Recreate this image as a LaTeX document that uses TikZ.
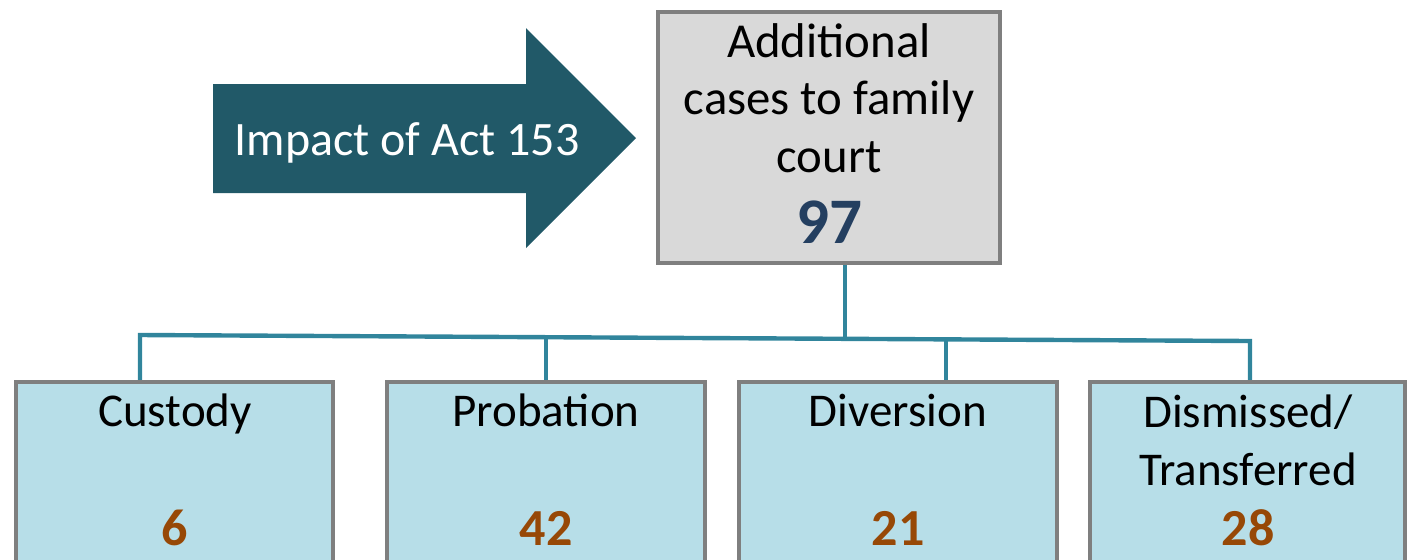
\documentclass[tikz,border=0pt]{standalone}
\usepackage{fontspec}
\setmainfont{Carlito}
\definecolor{arrowteal}{HTML}{215968}
\definecolor{boxgray}{HTML}{7F7F7F}
\definecolor{topfill}{HTML}{D9D9D9}
\definecolor{lowfill}{HTML}{B7DEE8}
\definecolor{conncol}{HTML}{31859C}
\definecolor{navynum}{HTML}{243F60}
\definecolor{brownnum}{HTML}{974806}
\begin{document}
\begin{tikzpicture}[x=0.5pt,y=-0.5pt,
  topbox/.style={draw=boxgray,fill=topfill,line width=2.2pt,minimum width=171pt,minimum height=125.5pt,inner sep=0pt},
  lowbox/.style={draw=boxgray,fill=lowfill,line width=2.2pt,minimum height=96.5pt,inner sep=0pt},
  conn/.style={draw=conncol,line width=2.2pt},
  toptext/.style={anchor=base,font=\fontsize{24.4pt}{30pt}\selectfont,inner sep=0pt},
  lowtext/.style={anchor=base,font=\fontsize{23.5pt}{28pt}\selectfont,inner sep=0pt},
  bignum/.style={anchor=base,font=\fontsize{32.5pt}{36pt}\selectfont\bfseries,text=navynum,inner sep=0pt},
  lownum/.style={anchor=base,font=\fontsize{26pt}{30pt}\selectfont\bfseries,text=brownnum,inner sep=0pt}]
\useasboundingbox (0,0) rectangle (1410,559);
% arrow
\fill[arrowteal] (213,84) -- (526,84) -- (526,28) -- (636,138) -- (526,248) -- (526,193) -- (213,193) -- cycle;
\node[anchor=base,text=white,font=\fontsize{24pt}{30pt}\selectfont,inner sep=0pt] (impact) at (407,155) {Impact of Act 153};
% boxes
\node[topbox] (top) at (829,137.5) {};
\node[lowbox,minimum width=158.5pt] (cust) at (174.5,478.5) {};
\node[lowbox,minimum width=159pt] (prob) at (546,478.5) {};
\node[lowbox,minimum width=159pt] (dive) at (898,478.5) {};
\node[lowbox,minimum width=157.5pt] (dism) at (1247.5,478.5) {};
% texts
\node[toptext] (t1) at (829,57) {Additional};
\node[toptext] (t2) at (829,114) {cases to family};
\node[toptext] (t3) at (829,172) {court};
\node[bignum] (t4) at (829,243) {97};
\node[lowtext] (c1) at (175,426) {Custody};
\node[lownum] (c2) at (175,545) {6};
\node[lowtext] (p1) at (546,426) {Probation};
\node[lownum] (p2) at (546,545) {42};
\node[lowtext] (d1) at (898,426) {Diversion};
\node[lownum] (d2) at (898,545) {21};
\node[lowtext] (m1) at (1248,427) {Dismissed/};
\node[lowtext] (m2) at (1248,485) {Transferred};
\node[lownum] (m3) at (1248,545) {28};
% connectors
\coordinate (xc) at (845,0);
\coordinate (x1) at (140,0);
\coordinate (x2) at (546,0);
\coordinate (x3) at (946,0);
\coordinate (x4) at (1250,0);
\coordinate (busl) at (140,335);
\coordinate (busr) at (1250,341);
\coordinate (busc) at (845,339);
\coordinate (bus2) at (546,337);
\coordinate (bus3) at (946,340);
\draw[conn] (top.south -| xc) -- (busc);
\draw[conn] (cust.north -| x1) -- (busl) -- (busr) -- (dism.north -| x4);
\draw[conn] (bus2) -- (prob.north -| x2);
\draw[conn] (bus3) -- (dive.north -| x3);
\end{tikzpicture}
\end{document}
